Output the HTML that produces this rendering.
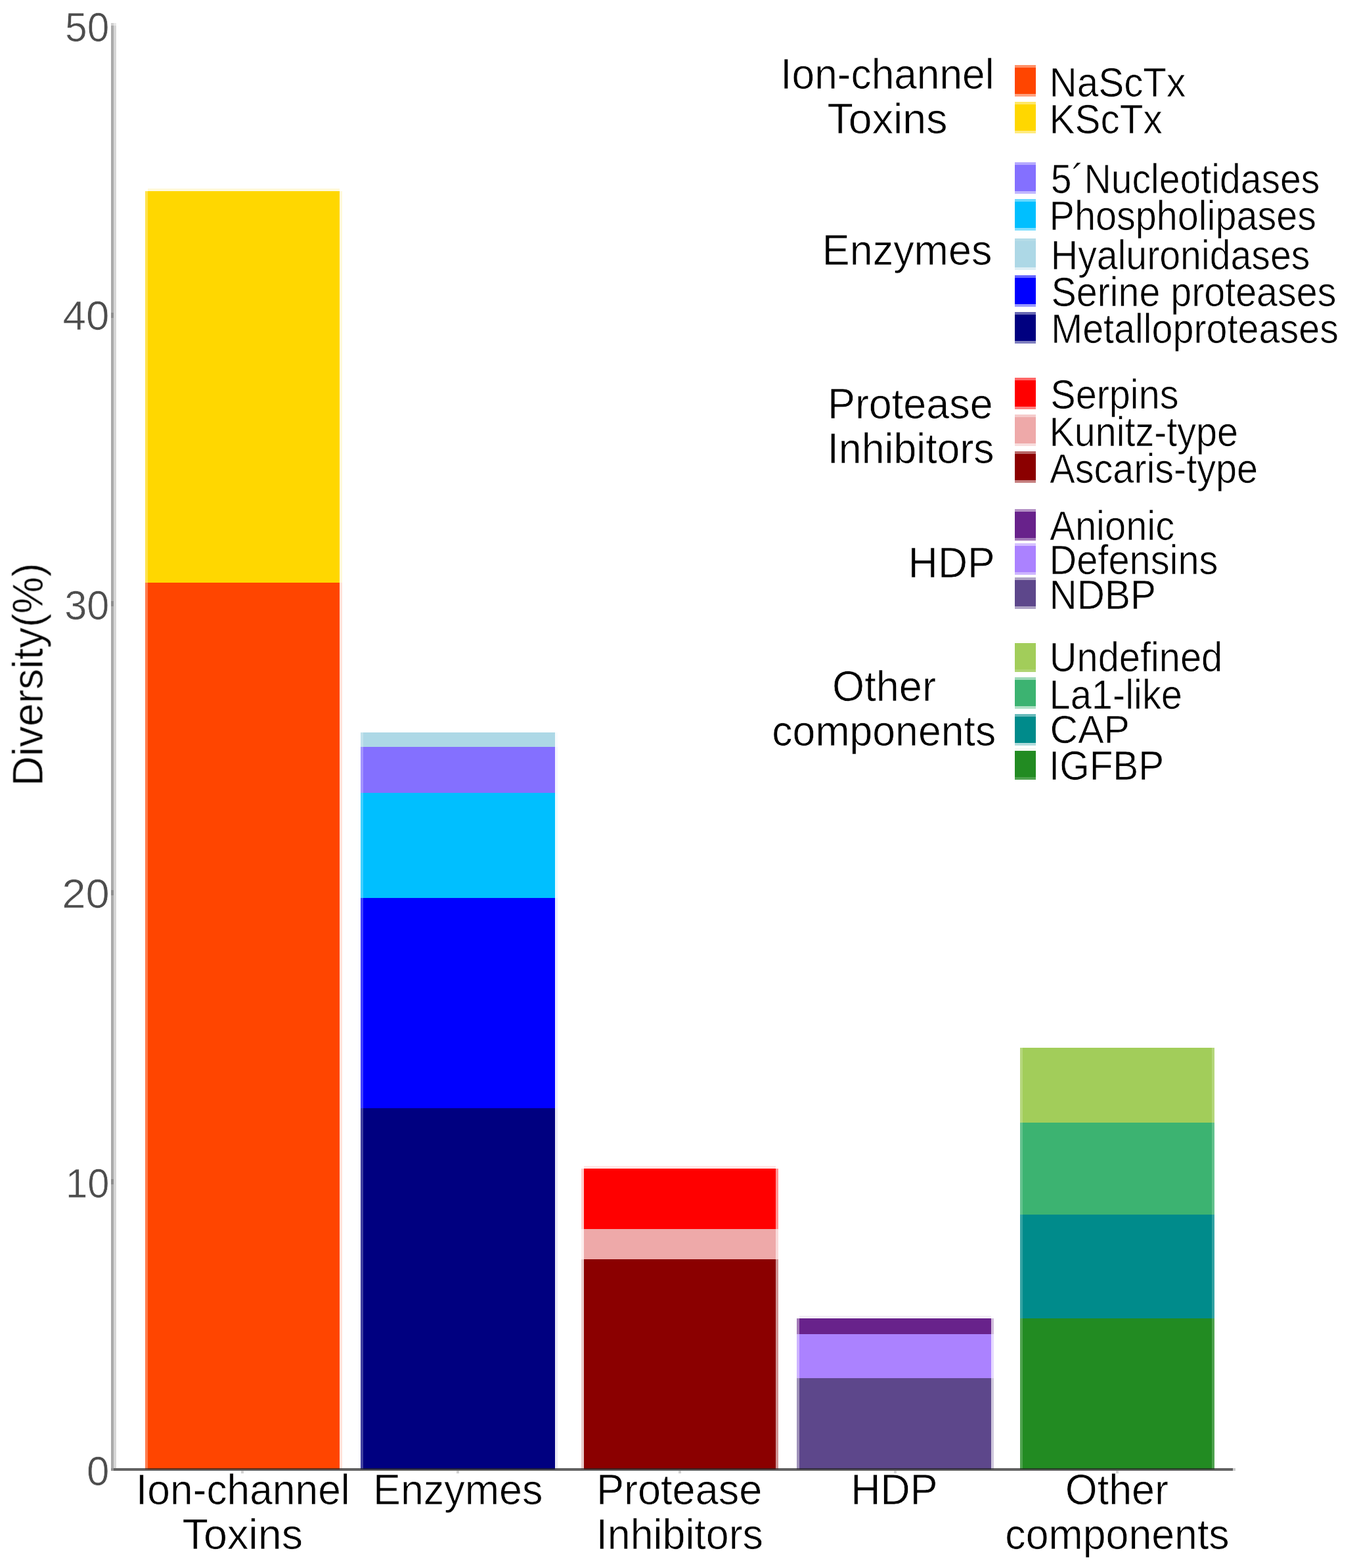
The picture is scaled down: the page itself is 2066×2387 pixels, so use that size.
<!DOCTYPE html>
<html><head><meta charset="utf-8"><title>Diversity chart</title>
<style>
html,body{margin:0;padding:0;background:#fff;}
body{width:2066px;height:2387px;overflow:hidden;}
svg{display:block;font-family:"Liberation Sans",Arial,Helvetica,sans-serif;}
</style></head><body>
<svg width="2066" height="2387" viewBox="0 0 2066 2387">
<defs><filter id="soft" x="-5%" y="-5%" width="110%" height="110%"><feGaussianBlur stdDeviation="0.6"/></filter></defs>
<rect x="0" y="0" width="2066" height="2387" fill="#ffffff"/>
<g shape-rendering="crispEdges">
<rect x="224.60" y="290.90" width="292.20" height="596.10" fill="#FFD700"/>
<rect x="220.60" y="290.90" width="4.00" height="596.10" fill="#FFD700" fill-opacity="0.7"/>
<rect x="516.80" y="290.90" width="4.00" height="596.10" fill="#FFD700" fill-opacity="0.15"/>
<rect x="224.60" y="887.00" width="292.20" height="1349.50" fill="#FF4500"/>
<rect x="220.60" y="887.00" width="4.00" height="1349.50" fill="#FF4500" fill-opacity="0.7"/>
<rect x="516.80" y="887.00" width="4.00" height="1349.50" fill="#FF4500" fill-opacity="0.15"/>
<rect x="224.60" y="286.90" width="292.20" height="4.00" fill="#FFD700" fill-opacity="0.15"/>
<rect x="553.00" y="1115.00" width="291.90" height="22.20" fill="#ADD8E6"/>
<rect x="549.00" y="1115.00" width="4.00" height="22.20" fill="#ADD8E6" fill-opacity="0.75"/>
<rect x="844.90" y="1115.00" width="4.00" height="22.20" fill="#ADD8E6" fill-opacity="0.08"/>
<rect x="553.00" y="1137.20" width="291.90" height="69.80" fill="#8470FF"/>
<rect x="549.00" y="1137.20" width="4.00" height="69.80" fill="#8470FF" fill-opacity="0.75"/>
<rect x="844.90" y="1137.20" width="4.00" height="69.80" fill="#8470FF" fill-opacity="0.08"/>
<rect x="553.00" y="1207.00" width="291.90" height="160.00" fill="#00BFFF"/>
<rect x="549.00" y="1207.00" width="4.00" height="160.00" fill="#00BFFF" fill-opacity="0.75"/>
<rect x="844.90" y="1207.00" width="4.00" height="160.00" fill="#00BFFF" fill-opacity="0.08"/>
<rect x="553.00" y="1367.00" width="291.90" height="320.00" fill="#0000FF"/>
<rect x="549.00" y="1367.00" width="4.00" height="320.00" fill="#0000FF" fill-opacity="0.75"/>
<rect x="844.90" y="1367.00" width="4.00" height="320.00" fill="#0000FF" fill-opacity="0.08"/>
<rect x="553.00" y="1687.00" width="291.90" height="549.50" fill="#000080"/>
<rect x="549.00" y="1687.00" width="4.00" height="549.50" fill="#000080" fill-opacity="0.75"/>
<rect x="844.90" y="1687.00" width="4.00" height="549.50" fill="#000080" fill-opacity="0.08"/>
<rect x="889.00" y="1779.00" width="291.90" height="92.30" fill="#FF0000"/>
<rect x="885.00" y="1779.00" width="4.00" height="92.30" fill="#FF0000" fill-opacity="0.2"/>
<rect x="1180.90" y="1779.00" width="4.00" height="92.30" fill="#FF0000" fill-opacity="0.42"/>
<rect x="889.00" y="1871.30" width="291.90" height="45.70" fill="#EEA9A9"/>
<rect x="885.00" y="1871.30" width="4.00" height="45.70" fill="#EEA9A9" fill-opacity="0.2"/>
<rect x="1180.90" y="1871.30" width="4.00" height="45.70" fill="#EEA9A9" fill-opacity="0.42"/>
<rect x="889.00" y="1917.00" width="291.90" height="319.50" fill="#8B0000"/>
<rect x="885.00" y="1917.00" width="4.00" height="319.50" fill="#8B0000" fill-opacity="0.2"/>
<rect x="1180.90" y="1917.00" width="4.00" height="319.50" fill="#8B0000" fill-opacity="0.42"/>
<rect x="889.00" y="1775.00" width="291.90" height="4.00" fill="#FF0000" fill-opacity="0.1"/>
<rect x="1217.00" y="2007.00" width="291.90" height="24.00" fill="#68228B"/>
<rect x="1213.00" y="2007.00" width="4.00" height="24.00" fill="#68228B" fill-opacity="0.6"/>
<rect x="1508.90" y="2007.00" width="4.00" height="24.00" fill="#68228B" fill-opacity="0.3"/>
<rect x="1217.00" y="2031.00" width="291.90" height="67.20" fill="#AB82FF"/>
<rect x="1213.00" y="2031.00" width="4.00" height="67.20" fill="#AB82FF" fill-opacity="0.6"/>
<rect x="1508.90" y="2031.00" width="4.00" height="67.20" fill="#AB82FF" fill-opacity="0.3"/>
<rect x="1217.00" y="2098.20" width="291.90" height="138.30" fill="#5D478B"/>
<rect x="1213.00" y="2098.20" width="4.00" height="138.30" fill="#5D478B" fill-opacity="0.6"/>
<rect x="1508.90" y="2098.20" width="4.00" height="138.30" fill="#5D478B" fill-opacity="0.3"/>
<rect x="1217.00" y="2003.00" width="291.90" height="4.00" fill="#68228B" fill-opacity="0.08"/>
<rect x="1557.00" y="1595.20" width="288.10" height="113.80" fill="#A2CD5A"/>
<rect x="1553.00" y="1595.20" width="4.00" height="113.80" fill="#A2CD5A" fill-opacity="0.8"/>
<rect x="1845.10" y="1595.20" width="4.00" height="113.80" fill="#A2CD5A" fill-opacity="0.8"/>
<rect x="1557.00" y="1709.00" width="288.10" height="140.00" fill="#3CB371"/>
<rect x="1553.00" y="1709.00" width="4.00" height="140.00" fill="#3CB371" fill-opacity="0.8"/>
<rect x="1845.10" y="1709.00" width="4.00" height="140.00" fill="#3CB371" fill-opacity="0.8"/>
<rect x="1557.00" y="1849.00" width="288.10" height="158.40" fill="#008B8B"/>
<rect x="1553.00" y="1849.00" width="4.00" height="158.40" fill="#008B8B" fill-opacity="0.8"/>
<rect x="1845.10" y="1849.00" width="4.00" height="158.40" fill="#008B8B" fill-opacity="0.8"/>
<rect x="1557.00" y="2007.40" width="288.10" height="229.10" fill="#228B22"/>
<rect x="1553.00" y="2007.40" width="4.00" height="229.10" fill="#228B22" fill-opacity="0.8"/>
<rect x="1845.10" y="2007.40" width="4.00" height="229.10" fill="#228B22" fill-opacity="0.8"/>
<rect x="169.00" y="39.00" width="4.00" height="2200.00" fill="#aaaaaa"/>
<rect x="173.00" y="39.00" width="4.00" height="2196.00" fill="#d6d6d6"/>
<rect x="169.00" y="35.00" width="4.00" height="4.00" fill="#aaaaaa" fill-opacity="0.55"/>
<rect x="173.00" y="35.00" width="4.00" height="4.00" fill="#d6d6d6" fill-opacity="0.55"/>
<rect x="173.00" y="2235.00" width="1704.00" height="4.00" fill="#262626" fill-opacity="0.72"/>
<rect x="169.00" y="2235.00" width="4.00" height="4.00" fill="#909090"/>
<rect x="1877.00" y="2235.00" width="4.00" height="4.00" fill="#cccccc"/>
<rect x="169.00" y="476.00" width="4.00" height="8.00" fill="#8c8c8c"/>
<rect x="169.00" y="915.00" width="4.00" height="8.00" fill="#8c8c8c"/>
<rect x="169.00" y="1355.00" width="4.00" height="8.00" fill="#8c8c8c"/>
<rect x="169.00" y="1795.00" width="4.00" height="8.00" fill="#8c8c8c"/>
<rect x="367.00" y="2239.00" width="4.00" height="4.00" fill="#d4d4d4"/>
<rect x="695.00" y="2239.00" width="4.00" height="4.00" fill="#d4d4d4"/>
<rect x="1033.00" y="2239.00" width="4.00" height="4.00" fill="#d4d4d4"/>
<rect x="1361.00" y="2239.00" width="4.00" height="4.00" fill="#d4d4d4"/>
<rect x="1699.00" y="2239.00" width="4.00" height="4.00" fill="#d4d4d4"/>
<rect x="1545.10" y="103.00" width="31.80" height="40.00" fill="#FF4500"/>
<rect x="1545.10" y="99.00" width="31.80" height="4.00" fill="#FF4500" fill-opacity="0.6"/>
<rect x="1545.10" y="143.00" width="31.80" height="4.00" fill="#FF4500" fill-opacity="0.5"/>
<rect x="1545.10" y="158.80" width="31.80" height="40.00" fill="#FFD700"/>
<rect x="1545.10" y="154.80" width="31.80" height="4.00" fill="#FFD700" fill-opacity="0.6"/>
<rect x="1545.10" y="198.80" width="31.80" height="4.00" fill="#FFD700" fill-opacity="0.5"/>
<rect x="1545.10" y="250.70" width="31.80" height="40.00" fill="#8470FF"/>
<rect x="1545.10" y="246.70" width="31.80" height="4.00" fill="#8470FF" fill-opacity="0.6"/>
<rect x="1545.10" y="290.70" width="31.80" height="4.00" fill="#8470FF" fill-opacity="0.5"/>
<rect x="1545.10" y="307.00" width="31.80" height="39.60" fill="#00BFFF"/>
<rect x="1545.10" y="303.00" width="31.80" height="4.00" fill="#00BFFF" fill-opacity="0.6"/>
<rect x="1545.10" y="346.60" width="31.80" height="4.00" fill="#00BFFF" fill-opacity="0.5"/>
<rect x="1545.10" y="366.90" width="31.80" height="40.00" fill="#ADD8E6"/>
<rect x="1545.10" y="362.90" width="31.80" height="4.00" fill="#ADD8E6" fill-opacity="0.9"/>
<rect x="1545.10" y="406.90" width="31.80" height="4.00" fill="#ADD8E6" fill-opacity="0.4"/>
<rect x="1545.10" y="422.90" width="31.80" height="40.00" fill="#0000FF"/>
<rect x="1545.10" y="418.90" width="31.80" height="4.00" fill="#0000FF" fill-opacity="0.6"/>
<rect x="1545.10" y="462.90" width="31.80" height="4.00" fill="#0000FF" fill-opacity="0.4"/>
<rect x="1545.10" y="478.70" width="31.80" height="40.00" fill="#000080"/>
<rect x="1545.10" y="474.70" width="31.80" height="4.00" fill="#000080" fill-opacity="0.6"/>
<rect x="1545.10" y="518.70" width="31.80" height="4.00" fill="#000080" fill-opacity="0.5"/>
<rect x="1545.10" y="578.80" width="31.80" height="40.00" fill="#FF0000"/>
<rect x="1545.10" y="574.80" width="31.80" height="4.00" fill="#FF0000" fill-opacity="0.6"/>
<rect x="1545.10" y="618.80" width="31.80" height="4.00" fill="#FF0000" fill-opacity="0.5"/>
<rect x="1545.10" y="634.90" width="31.80" height="40.00" fill="#EEA9A9"/>
<rect x="1545.10" y="630.90" width="31.80" height="4.00" fill="#EEA9A9" fill-opacity="0.6"/>
<rect x="1545.10" y="674.90" width="31.80" height="4.00" fill="#EEA9A9" fill-opacity="0.4"/>
<rect x="1545.10" y="690.90" width="31.80" height="40.00" fill="#8B0000"/>
<rect x="1545.10" y="686.90" width="31.80" height="4.00" fill="#8B0000" fill-opacity="0.6"/>
<rect x="1545.10" y="730.90" width="31.80" height="4.00" fill="#8B0000" fill-opacity="0.5"/>
<rect x="1545.10" y="778.90" width="31.80" height="39.90" fill="#68228B"/>
<rect x="1545.10" y="774.90" width="31.80" height="4.00" fill="#68228B" fill-opacity="0.5"/>
<rect x="1545.10" y="818.80" width="31.80" height="4.00" fill="#68228B" fill-opacity="0.6"/>
<rect x="1545.10" y="831.00" width="31.80" height="39.70" fill="#AB82FF"/>
<rect x="1545.10" y="827.00" width="31.80" height="4.00" fill="#AB82FF" fill-opacity="0.5"/>
<rect x="1545.10" y="870.70" width="31.80" height="4.00" fill="#AB82FF" fill-opacity="0.6"/>
<rect x="1545.10" y="883.00" width="31.80" height="39.90" fill="#5D478B"/>
<rect x="1545.10" y="879.00" width="31.80" height="4.00" fill="#5D478B" fill-opacity="0.5"/>
<rect x="1545.10" y="922.90" width="31.80" height="4.00" fill="#5D478B" fill-opacity="0.5"/>
<rect x="1545.10" y="979.00" width="31.80" height="39.80" fill="#A2CD5A"/>
<rect x="1545.10" y="975.00" width="31.80" height="4.00" fill="#A2CD5A" fill-opacity="0.03"/>
<rect x="1545.10" y="1018.80" width="31.80" height="4.00" fill="#A2CD5A" fill-opacity="0.85"/>
<rect x="1545.10" y="1034.90" width="31.80" height="40.00" fill="#3CB371"/>
<rect x="1545.10" y="1030.90" width="31.80" height="4.00" fill="#3CB371" fill-opacity="0.5"/>
<rect x="1545.10" y="1074.90" width="31.80" height="4.00" fill="#3CB371" fill-opacity="0.4"/>
<rect x="1545.10" y="1091.00" width="31.80" height="39.70" fill="#008B8B"/>
<rect x="1545.10" y="1087.00" width="31.80" height="4.00" fill="#008B8B" fill-opacity="0.6"/>
<rect x="1545.10" y="1130.70" width="31.80" height="4.00" fill="#008B8B" fill-opacity="0.3"/>
<rect x="1545.10" y="1143.10" width="31.80" height="39.80" fill="#228B22"/>
<rect x="1545.10" y="1139.10" width="31.80" height="4.00" fill="#228B22" fill-opacity="0.05"/>
<rect x="1545.10" y="1182.90" width="31.80" height="4.00" fill="#228B22" fill-opacity="0.8"/>
</g>
<g filter="url(#soft)" stroke="#ffffff" stroke-width="0.7" stroke-linejoin="round">
<g fill="#4d4d4d">
<text transform="translate(99.08,63.00) scale(0.9608,1)" font-size="63">50</text>
<text transform="translate(95.56,502.30) scale(1.0128,1)" font-size="63">40</text>
<text transform="translate(98.30,943.00) scale(0.9723,1)" font-size="63">30</text>
<text transform="translate(94.24,1382.40) scale(1.0354,1)" font-size="63">20</text>
<text transform="translate(100.12,1822.70) scale(0.9484,1)" font-size="63">10</text>
<text transform="translate(131.92,2261.00) scale(0.9840,1)" font-size="63">0</text>
</g>
<g fill="#000000">
<text transform="translate(64.7,1196.70) rotate(-90) scale(0.9850,1)" font-size="64">Diversity(%)</text>
<text transform="translate(207.04,2290.10) scale(0.9737,1)" font-size="64">Ion-channel</text>
<text transform="translate(277.54,2358.10) scale(1.0126,1)" font-size="64">Toxins</text>
<text transform="translate(568.02,2290.10) scale(0.9817,1)" font-size="64">Enzymes</text>
<text transform="translate(908.00,2290.10) scale(0.9853,1)" font-size="64">Protease</text>
<text transform="translate(907.40,2358.10) scale(0.9804,1)" font-size="64">Inhibitors</text>
<text transform="translate(1295.34,2290.10) scale(0.9782,1)" font-size="64">HDP</text>
<text transform="translate(1621.81,2290.10) scale(0.9821,1)" font-size="64">Other</text>
<text transform="translate(1530.34,2358.00) scale(0.9791,1)" font-size="64">components</text>
<text transform="translate(1188.24,134.60) scale(0.9728,1)" font-size="64">Ion-channel</text>
<text transform="translate(1259.55,202.60) scale(1.0081,1)" font-size="64">Toxins</text>
<text transform="translate(1251.81,403.20) scale(0.9825,1)" font-size="64">Enzymes</text>
<text transform="translate(1260.01,637.00) scale(0.9824,1)" font-size="64">Protease</text>
<text transform="translate(1259.40,704.90) scale(0.9792,1)" font-size="64">Inhibitors</text>
<text transform="translate(1382.85,878.70) scale(0.9758,1)" font-size="64">HDP</text>
<text transform="translate(1267.00,1066.60) scale(0.9872,1)" font-size="64">Other</text>
<text transform="translate(1175.34,1134.60) scale(0.9777,1)" font-size="64">components</text>
<text transform="translate(1597.48,146.70) scale(0.9203,1)" font-size="63.5">NaScTx</text>
<text transform="translate(1597.47,202.50) scale(0.9211,1)" font-size="63.5">KScTx</text>
<text transform="translate(1599.71,294.20) scale(0.9000,1)" font-size="63.5">5´Nucleotidases</text>
<text transform="translate(1597.55,350.20) scale(0.9067,1)" font-size="63.5">Phospholipases</text>
<text transform="translate(1599.78,410.00) scale(0.9019,1)" font-size="63.5">Hyaluronidases</text>
<text transform="translate(1600.42,466.40) scale(0.9042,1)" font-size="63.5">Serine proteases</text>
<text transform="translate(1600.26,522.30) scale(0.9053,1)" font-size="63.5">Metalloproteases</text>
<text transform="translate(1599.21,622.30) scale(0.9073,1)" font-size="63.5">Serpins</text>
<text transform="translate(1597.56,678.50) scale(0.9047,1)" font-size="63.5">Kunitz-type</text>
<text transform="translate(1598.36,734.50) scale(0.9065,1)" font-size="63.5">Ascaris-type</text>
<text transform="translate(1598.36,822.40) scale(0.9110,1)" font-size="63.5">Anionic</text>
<text transform="translate(1597.53,874.30) scale(0.9100,1)" font-size="63.5">Defensins</text>
<text transform="translate(1597.47,926.50) scale(0.9211,1)" font-size="63.5">NDBP</text>
<text transform="translate(1597.82,1022.40) scale(0.9098,1)" font-size="63.5">Undefined</text>
<text transform="translate(1597.53,1078.50) scale(0.9108,1)" font-size="63.5">La1-like</text>
<text transform="translate(1598.55,1130.90) scale(0.9847,1)" font-size="60">CAP</text>
<text transform="translate(1597.11,1186.50) scale(0.9184,1)" font-size="63.5">IGFBP</text>
</g>
</g>
</svg>
</body></html>
